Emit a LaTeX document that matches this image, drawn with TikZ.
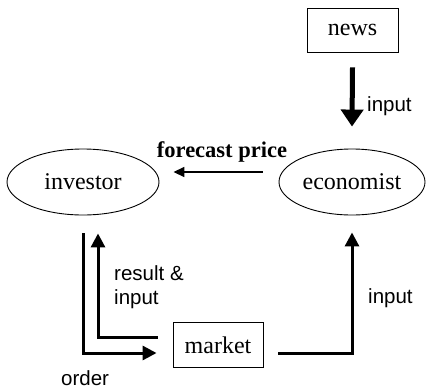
\documentclass[tikz,border=0pt]{standalone}
\usepackage{fontspec}
\setmainfont{Liberation Serif}
\setsansfont{Liberation Sans}
\usetikzlibrary{arrows.meta,shapes.geometric,positioning}
\begin{document}
\begin{tikzpicture}[x=1pt,y=-1pt,
  actor/.style={draw,ellipse,line width=0.9pt,minimum width=#1,minimum height=66pt,inner sep=0pt,font=\fontsize{24}{28}\selectfont},
  actor/.default=150pt,
  boxnode/.style={draw,rectangle,line width=0.9pt,inner sep=0pt,font=\fontsize{24}{28}\selectfont},
  conn/.style={line width=3pt,-{Triangle[length=14pt,width=14pt]}},
  lbl/.style={font=\sffamily\fontsize{20.5}{24}\selectfont,inner sep=0pt},
]
\useasboundingbox (0,0) rectangle (427,391);

% nodes
\node[boxnode,minimum width=91pt,minimum height=44pt] (news) at (352.5,30) {news};
\node[actor=152pt] (inv) at (83,182) {investor};
\node[actor=146pt] (eco) at (352,182) {economist};
\node[boxnode,minimum width=90pt,minimum height=45pt] (mkt) at (218,345) {market};

% news feeds the economist
\draw[line width=5pt,-{Triangle[length=17pt,width=22pt]}]
  ([yshift=-15pt]news.south) -- ([yshift=22pt]eco.north);
\node[lbl,anchor=west] (lin1) at (367,106) {input};

% forecast from economist to investor
\draw[line width=1.6pt,-{Triangle[length=11pt,width=10pt]}]
  ([xshift=-16pt,yshift=10pt]eco.west) -- ([xshift=14pt,yshift=10pt]inv.east);
\node[font=\bfseries\fontsize{22.5}{26}\selectfont,inner sep=0pt] (lfc) at (222,152) {forecast price};

% order from investor to market
\draw[conn] ([yshift=-18pt]inv.south) |- ([xshift=-16pt,yshift=-8pt]mkt.west);
\node[lbl,anchor=west] (lord) at (61,378) {order};

% result back to investor
\draw[conn] ([xshift=-15pt,yshift=8pt]mkt.west) -| ([xshift=15pt,yshift=-18pt]inv.south);
\node[lbl,anchor=west,align=left] (lres) at (114,287) {result \&\\input};

% market feeds the economist
\draw[conn] ([xshift=15pt,yshift=-8pt]mkt.east) -| ([yshift=-17pt]eco.south);
\node[lbl,anchor=west] (lin2) at (368,298) {input};
\end{tikzpicture}
\end{document}
